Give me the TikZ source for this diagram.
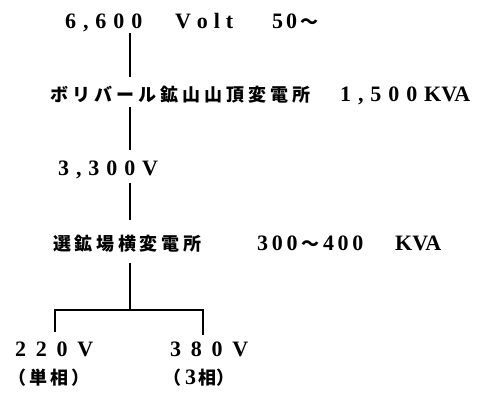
\documentclass[tikz,border=0pt]{standalone}
\usepackage{fontspec}
\setmainfont{Liberation Serif}
\newfontfamily\jp{Noto Sans CJK JP}
\makeatletter
\newcommand\spaced[2]{\def\sp@k{#1}\sp@i#2\relax}
\def\sp@i#1{\ifx#1\relax\else#1\kern\sp@k\relax\expandafter\sp@i\fi}
\makeatother
\begin{document}
\begin{tikzpicture}[x=1pt,y=-1pt,
  txt/.style={anchor=base west, inner sep=0pt, font=\bfseries\fontsize{22}{22}\selectfont},
  jptxt/.style={anchor=base west, inner sep=0pt, font=\jp\bfseries\fontsize{18}{18}\selectfont},
  wire/.style={line width=1.8pt, line cap=butt, line join=miter}]
\useasboundingbox (0,0) rectangle (482,397);
% texts
\node[txt] (src) at (65,28) {\makebox[110pt][l]{\spaced{6.9pt}{6,600}}\makebox[97pt][l]{\spaced{5.9pt}{Volt}}\spaced{3pt}{50}{\jp\fontsize{18}{18}\selectfont ～}};
\node[txt] (top) at (50,101) {\makebox[290pt][l]{\jp\fontsize{18}{18}\selectfont\spaced{4pt}{ボリバール鉱山山頂変電所}}\spaced{6.9pt}{1,500}KVA};
\node[txt] (mid) at (58,175) {\spaced{6.9pt}{3,300V}};
\node[txt] (sel) at (53,250) {\makebox[204pt][l]{\jp\fontsize{18}{18}\selectfont\spaced{3.7pt}{選鉱場横変電所}}\makebox[138pt][l]{\spaced{3.7pt}{300}{\jp\fontsize{18}{18}\selectfont ～}\kern3.7pt\spaced{3.7pt}{400}}KVA};
\node[txt] (lv) at (15,356) {\spaced{9.7pt}{220V}};
\node[txt] (hv) at (170,356) {\spaced{9.7pt}{380V}};
\node[jptxt] (lvp) at (8,384) {\spaced{3pt}{（単相）}};
\node[jptxt] (hvp) at (163,384) {（\kern4pt{\rmfamily\bfseries\fontsize{22}{22}\selectfont 3}\kern2pt 相）};
% connector end points
\coordinate (a1) at (130,33);  \coordinate (a2) at (130,77);
\coordinate (b1) at (130,107); \coordinate (b2) at (130,150);
\coordinate (c1) at (130,183); \coordinate (c2) at (130,220);
\coordinate (d1) at (130,263); \coordinate (j)  at (130,310);
\coordinate (lt) at (55,310);  \coordinate (lb) at (55,332);
\coordinate (rt) at (203,310); \coordinate (rb) at (203,335);
% connectors
\draw[wire] (a1) -- (a2);
\draw[wire] (b1) -- (b2);
\draw[wire] (c1) -- (c2);
\draw[wire] (d1) -- (j);
\draw[wire] (lb) -- (lt) -- (rt) -- (rb);
\end{tikzpicture}
\end{document}
